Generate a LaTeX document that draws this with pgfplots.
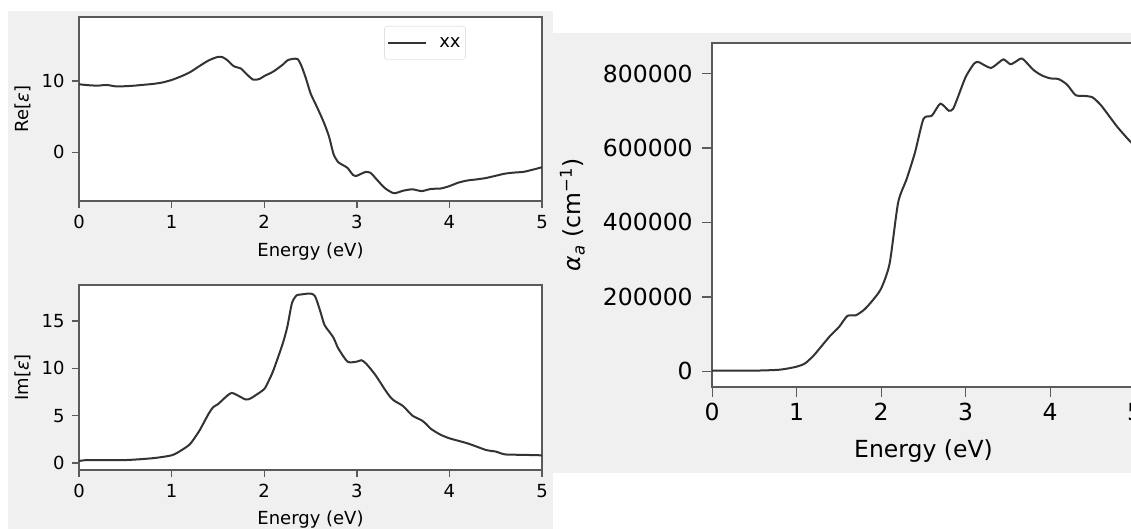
\documentclass[border=0pt]{standalone}
\usepackage{fontspec}
\setmainfont{DejaVu Sans}
\usepackage{pgfplots}
\pgfplotsset{compat=1.18}
\definecolor{panelgray}{HTML}{F0F0F0}
\definecolor{spine}{HTML}{5A5A5A}
\definecolor{curve}{HTML}{333333}

% Re(eps), Im(eps), alpha vs energy
\pgfplotstableread{
E v
0 9.55
0.1 9.42
0.2 9.36
0.3 9.45
0.4 9.25
0.5 9.28
0.6 9.36
0.7 9.48
0.8 9.6
0.9 9.8
1.0 10.15
1.1 10.65
1.2 11.25
1.3 12.1
1.4 12.9
1.5 13.4
1.55 13.35
1.6 12.95
1.67 12.1
1.75 11.75
1.8 11.1
1.88 10.2
1.95 10.3
2.0 10.7
2.1 11.35
2.2 12.3
2.25 12.9
2.3 13.1
2.36 13.1
2.4 12.2
2.45 10.4
2.5 8.3
2.55 6.9
2.6 5.5
2.65 4.0
2.7 2.2
2.75 -0.3
2.8 -1.4
2.85 -1.8
2.9 -2.2
2.96 -3.2
3.0 -3.3
3.05 -3.0
3.1 -2.75
3.15 -2.9
3.2 -3.6
3.3 -5.0
3.4 -5.75
3.5 -5.4
3.6 -5.2
3.7 -5.45
3.8 -5.15
3.9 -5.1
3.95 -4.95
4.0 -4.75
4.1 -4.25
4.2 -3.95
4.3 -3.8
4.4 -3.6
4.5 -3.3
4.6 -3.0
4.7 -2.85
4.8 -2.75
4.9 -2.45
5.0 -2.1
}\reeps

\pgfplotstableread{
E v
0 0.2
0.1 0.3
0.5 0.3
0.8 0.5
1.0 0.8
1.1 1.3
1.2 2.0
1.3 3.4
1.4 5.2
1.45 5.9
1.5 6.2
1.6 7.1
1.65 7.4
1.7 7.2
1.8 6.7
1.85 6.8
1.9 7.1
2.0 7.8
2.05 8.7
2.1 9.8
2.2 12.6
2.25 14.4
2.3 16.9
2.35 17.7
2.4 17.8
2.5 17.9
2.55 17.6
2.6 16.2
2.65 14.6
2.7 13.9
2.75 13.2
2.8 12.1
2.9 10.7
3.0 10.7
3.05 10.85
3.1 10.5
3.2 9.3
3.3 7.8
3.35 7.1
3.4 6.6
3.5 6.0
3.6 5.0
3.7 4.5
3.75 4.1
3.8 3.6
3.9 3.0
4.0 2.6
4.2 2.05
4.4 1.35
4.5 1.2
4.6 0.9
4.8 0.85
5.0 0.8
}\imeps

\pgfplotstableread{
E v
0 1800
0.5 2000
0.8 4500
1.0 12600
1.1 21600
1.2 42400
1.3 69400
1.4 96500
1.5 119000
1.6 149000
1.7 150600
1.8 166000
1.9 191000
2.0 223000
2.1 290000
2.2 453000
2.3 516000
2.4 588000
2.5 678000
2.6 687000
2.7 719000
2.8 700000
2.85 705000
2.9 732000
3.0 791000
3.1 827000
3.15 831000
3.2 825000
3.3 815000
3.4 831000
3.45 838000
3.53 825000
3.6 833000
3.67 840000
3.8 810000
3.9 795000
4.0 787000
4.1 785000
4.2 770000
4.3 742000
4.4 740000
4.5 736000
4.6 715000
4.7 685000
4.8 655000
4.92 624000
5.0 605000
}\alphatab

\pgfplotsset{
  panel/.style={
    scale only axis,
    anchor=south west,
    xmin=0, xmax=5,
    xtick={0,1,2,3,4,5},
    axis line style={spine, line width=1.8pt},
    tick style={spine, line width=1.4pt},
    tick align=outside,
    xtick pos=lower, ytick pos=left,
    axis background/.style={fill=white},
    /pgf/number format/assume math mode=true,
    scaled y ticks=false,
    yticklabel style={/pgf/number format/fixed, /pgf/number format/1000 sep={}},
  },
  small/.style={
    major tick length=7pt,
    tick label style={font=\fontsize{18}{18}\selectfont},
    label style={font=\fontsize{18}{18}\selectfont},
    xticklabel style={yshift=-4pt},
    yticklabel style={xshift=-4pt},
  },
  dos/.style={curve, line width=2pt, smooth, tension=0.4},
}

\begin{document}
\begin{tikzpicture}[x=1pt,y=1pt]
\useasboundingbox (0,0) rectangle (1131,529);
\fill[white] (0,0) rectangle (1131,529);
\fill[panelgray] (8,0) rectangle (553,518);
\fill[panelgray] (553,56) rectangle (1131,496);

\begin{axis}[panel, small,
  at={(79pt,328.3pt)}, width=463pt, height=183.7pt,
  ymin=-6.8, ymax=19, ytick={0,10},
  xlabel={Energy (eV)}, ylabel={Re[\textit{ε}]},
  xlabel style={at={(axis description cs:0.5,-0.3065)}, anchor=base},
  ylabel style={at={(axis description cs:-0.121,0.5)}, anchor=center},
  legend style={at={(axis description cs:0.659,0.951)}, anchor=north west,
    draw=black!18, rounded corners=3pt, fill=white,
    font=\fontsize{18}{18}\selectfont, inner xsep=3pt, inner ysep=9pt,
    /tikz/every odd column/.append style={column sep=10pt}},
  legend image code/.code={\draw[#1] (0pt,0pt) -- (38pt,0pt);},
]
\addplot[dos] table[x=E, y=v] {\reeps};
\addlegendentry{xx}
\end{axis}

\begin{axis}[panel, small,
  at={(79pt,59pt)}, width=463pt, height=185pt,
  ymin=-0.75, ymax=18.8, ytick={0,5,10,15},
  xlabel={Energy (eV)}, ylabel={Im[\textit{ε}]},
  xlabel style={at={(axis description cs:0.5,-0.297)}, anchor=base},
  ylabel style={at={(axis description cs:-0.121,0.5)}, anchor=center},
]
\addplot[dos] table[x=E, y=v] {\imeps};
\end{axis}

\begin{axis}[panel,
  at={(712.2pt,142pt)}, width=422.5pt, height=344pt,
  ymin=-42000, ymax=882000, ytick={0,200000,400000,600000,800000},
  major tick length=10pt,
  tick label style={font=\fontsize{23.5}{24}\selectfont},
  label style={font=\fontsize{23.5}{24}\selectfont},
  xticklabel style={yshift=-3pt},
  yticklabel style={xshift=-6pt},
  xlabel={Energy (eV)},
  ylabel={\textit{α}\textsubscript{\textit{a}} (cm\textsuperscript{−1})},
  xlabel style={at={(axis description cs:0.5,-0.2035)}, anchor=base},
  ylabel style={at={(axis description cs:-0.331,0.5)}, anchor=center},
]
\addplot[dos] table[x=E, y=v] {\alphatab};
\end{axis}
\end{tikzpicture}
\end{document}
